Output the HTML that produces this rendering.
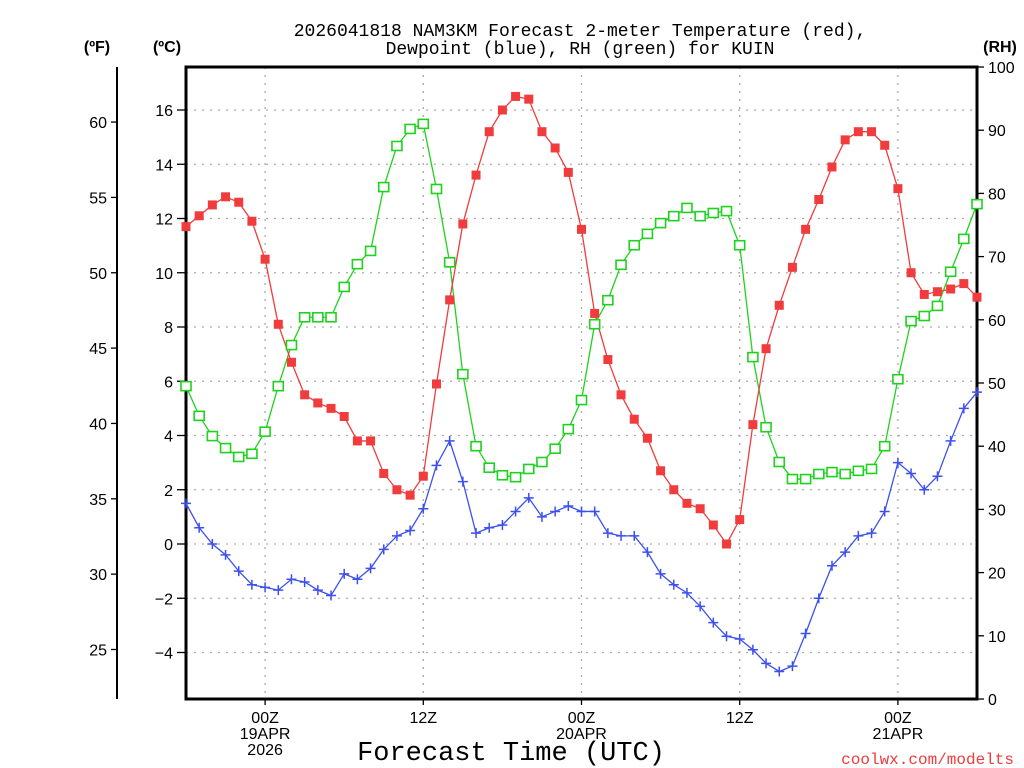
<!DOCTYPE html>
<html><head><meta charset="utf-8"><style>
html,body{margin:0;padding:0;background:#fff;}
svg{display:block;font-family:"Liberation Sans",sans-serif;}
</style></head><body>
<svg id="chart" width="1024" height="768" viewBox="0 0 1024 768" xmlns="http://www.w3.org/2000/svg">
<rect x="0" y="0" width="1024" height="768" fill="#fff"/>
<text x="580" y="36" text-anchor="middle" font-family="Liberation Mono, monospace" font-size="18">2026041818 NAM3KM Forecast 2-meter Temperature (red),</text>
<text x="580" y="54" text-anchor="middle" font-family="Liberation Mono, monospace" font-size="18">Dewpoint (blue), RH (green) for KUIN</text>
<text x="97" y="52" text-anchor="middle" font-size="16" font-weight="bold">(ºF)</text>
<text x="167" y="52" text-anchor="middle" font-size="16" font-weight="bold">(ºC)</text>
<text x="1000" y="52" text-anchor="middle" font-size="16" font-weight="bold">(RH)</text>
<text x="511" y="760" text-anchor="middle" font-family="Liberation Mono, monospace" font-size="27">Forecast Time (UTC)</text>
<text x="1014" y="764" text-anchor="end" font-family="Liberation Mono, monospace" font-size="16" fill="#f03c3c">coolwx.com/modelts</text>
<g id="grid"></g><g id="axes"></g><g id="series"></g>
</svg>
<script>
const tempC=[11.7,12.1,12.5,12.8,12.6,11.9,10.5,8.1,6.7,5.5,5.2,5.0,4.7,3.8,3.8,2.6,2.0,1.8,2.5,5.9,9.0,11.8,13.6,15.2,16.0,16.5,16.4,15.2,14.6,13.7,11.6,8.5,6.8,5.5,4.6,3.9,2.7,2.0,1.5,1.3,0.7,0.0,0.9,4.4,7.2,8.8,10.2,11.6,12.7,13.9,14.9,15.2,15.2,14.7,13.1,10.0,9.2,9.3,9.4,9.6,9.1];
const dewC=[1.5,0.6,0.0,-0.4,-1.0,-1.5,-1.6,-1.7,-1.3,-1.4,-1.7,-1.9,-1.1,-1.3,-0.9,-0.2,0.3,0.5,1.3,2.9,3.8,2.3,0.4,0.6,0.7,1.2,1.7,1.0,1.2,1.4,1.2,1.2,0.4,0.3,0.3,-0.3,-1.1,-1.5,-1.8,-2.3,-2.9,-3.4,-3.5,-3.9,-4.4,-4.7,-4.5,-3.3,-2.0,-0.8,-0.3,0.3,0.4,1.2,3.0,2.6,2.0,2.5,3.8,5.0,5.6];
const rh=[49.5,44.8,41.6,39.7,38.3,38.8,42.3,49.5,56.0,60.4,60.4,60.4,65.2,68.8,70.9,81.0,87.5,90.2,91.0,80.7,69.1,51.4,40.0,36.6,35.4,35.1,36.4,37.5,39.6,42.7,47.3,59.3,63.1,68.7,71.8,73.6,75.3,76.4,77.7,76.4,76.9,77.2,71.8,54.1,43.0,37.5,34.8,34.8,35.6,35.9,35.6,36.1,36.4,40.0,50.6,59.8,60.6,62.2,67.6,72.8,78.3];
const fTicks=[25,30,35,40,45,50,55,60];
const cTicks=[-4,-2,0,2,4,6,8,10,12,14,16];
const rhTicks=[0,10,20,30,40,50,60,70,80,90,100];
const xTickHours=[6,18,30,42,54];
const xTickLabels=[["00Z","19APR","2026"],["12Z"],["00Z","20APR"],["12Z"],["00Z","21APR"]];

const NS="http://www.w3.org/2000/svg";
const L=186,R=977,T=67,B=699;
const xS=h=>L+(R-L)*h/60;
const yC=c=>544-c*27.125;
const yF=f=>yC((f-32)*5/9);
const yRH=v=>B-(B-T)*v/100;
function mk(tag,attrs,parent){const e=document.createElementNS(NS,tag);for(const k in attrs)e.setAttribute(k,attrs[k]);parent.appendChild(e);return e;}
const grid=document.getElementById('grid'),axes=document.getElementById('axes'),ser=document.getElementById('series');

cTicks.forEach(c=>{const y=yC(c);
 const g=mk('line',{x1:L,x2:R,y1:y,y2:y,stroke:'#aaa','stroke-width':1.3,'stroke-dasharray':'2,6'},grid);
 
 mk('line',{x1:177,x2:L,y1:y,y2:y,stroke:'#000','stroke-width':1.3},axes);
 const t=mk('text',{x:173,y:y+6,'text-anchor':'end','font-size':16},axes);t.textContent=c<0?'\u2212'+(-c):c;
 
});
xTickHours.forEach((h,i)=>{const x=xS(h);
 const g=mk('line',{x1:x,x2:x,y1:T,y2:B,stroke:'#aaa','stroke-width':1.3,'stroke-dasharray':'2,6'},grid);
 
 mk('line',{x1:x,x2:x,y1:B,y2:B+6,stroke:'#000','stroke-width':1.3},axes);
 xTickLabels[i].forEach((s,j)=>{const t=mk('text',{x:x,y:B+24+j*16,'text-anchor':'middle','font-size':16},axes);t.textContent=s;
  });
});
fTicks.forEach(f=>{const y=yF(f);
 mk('line',{x1:111,x2:117,y1:y,y2:y,stroke:'#000','stroke-width':1.3},axes);
 const t=mk('text',{x:107,y:y+6,'text-anchor':'end','font-size':16},axes);t.textContent=f;
 
});
rhTicks.forEach(v=>{const y=yRH(v);
 mk('line',{x1:R,x2:R+7,y1:y,y2:y,stroke:'#000','stroke-width':1.3},axes);
 const t=mk('text',{x:988,y:y+6,'text-anchor':'start','font-size':16},axes);t.textContent=v;
 
});
const fl=mk('line',{x1:117,x2:117,y1:T,y2:B,stroke:'#000','stroke-width':2},axes);

const box=mk('rect',{x:L,y:T,width:R-L,height:B-T,fill:'none',stroke:'#000','stroke-width':3},axes);


function line(vals,yf,color,name){
 const p=mk('polyline',{points:vals.map((v,i)=>xS(i)+','+yf(v)).join(' '),fill:'none',stroke:color,'stroke-width':1.3},ser);
 
}
line(rh,yRH,'#1ed21e','rh');
line(tempC,yC,'#f03c3c','temperature');
line(dewC,yC,'#3c50f0','dewpoint');
rh.forEach((v,i)=>{const r=mk('rect',{x:xS(i)-5,y:yRH(v)-4.5,width:10,height:9,fill:'#fff',stroke:'#1ed21e','stroke-width':1.6},ser);
 });
tempC.forEach((v,i)=>{const r=mk('rect',{x:xS(i)-4.5,y:yC(v)-4.5,width:9,height:9,fill:'#f03c3c'},ser);
 });
dewC.forEach((v,i)=>{const x=xS(i),y=yC(v);
 const g=mk('path',{d:`M${x-5},${y}H${x+5}M${x},${y-5}V${y+5}`,stroke:'#3c50f0','stroke-width':1.5},ser);
 });
</script>
</body></html>
